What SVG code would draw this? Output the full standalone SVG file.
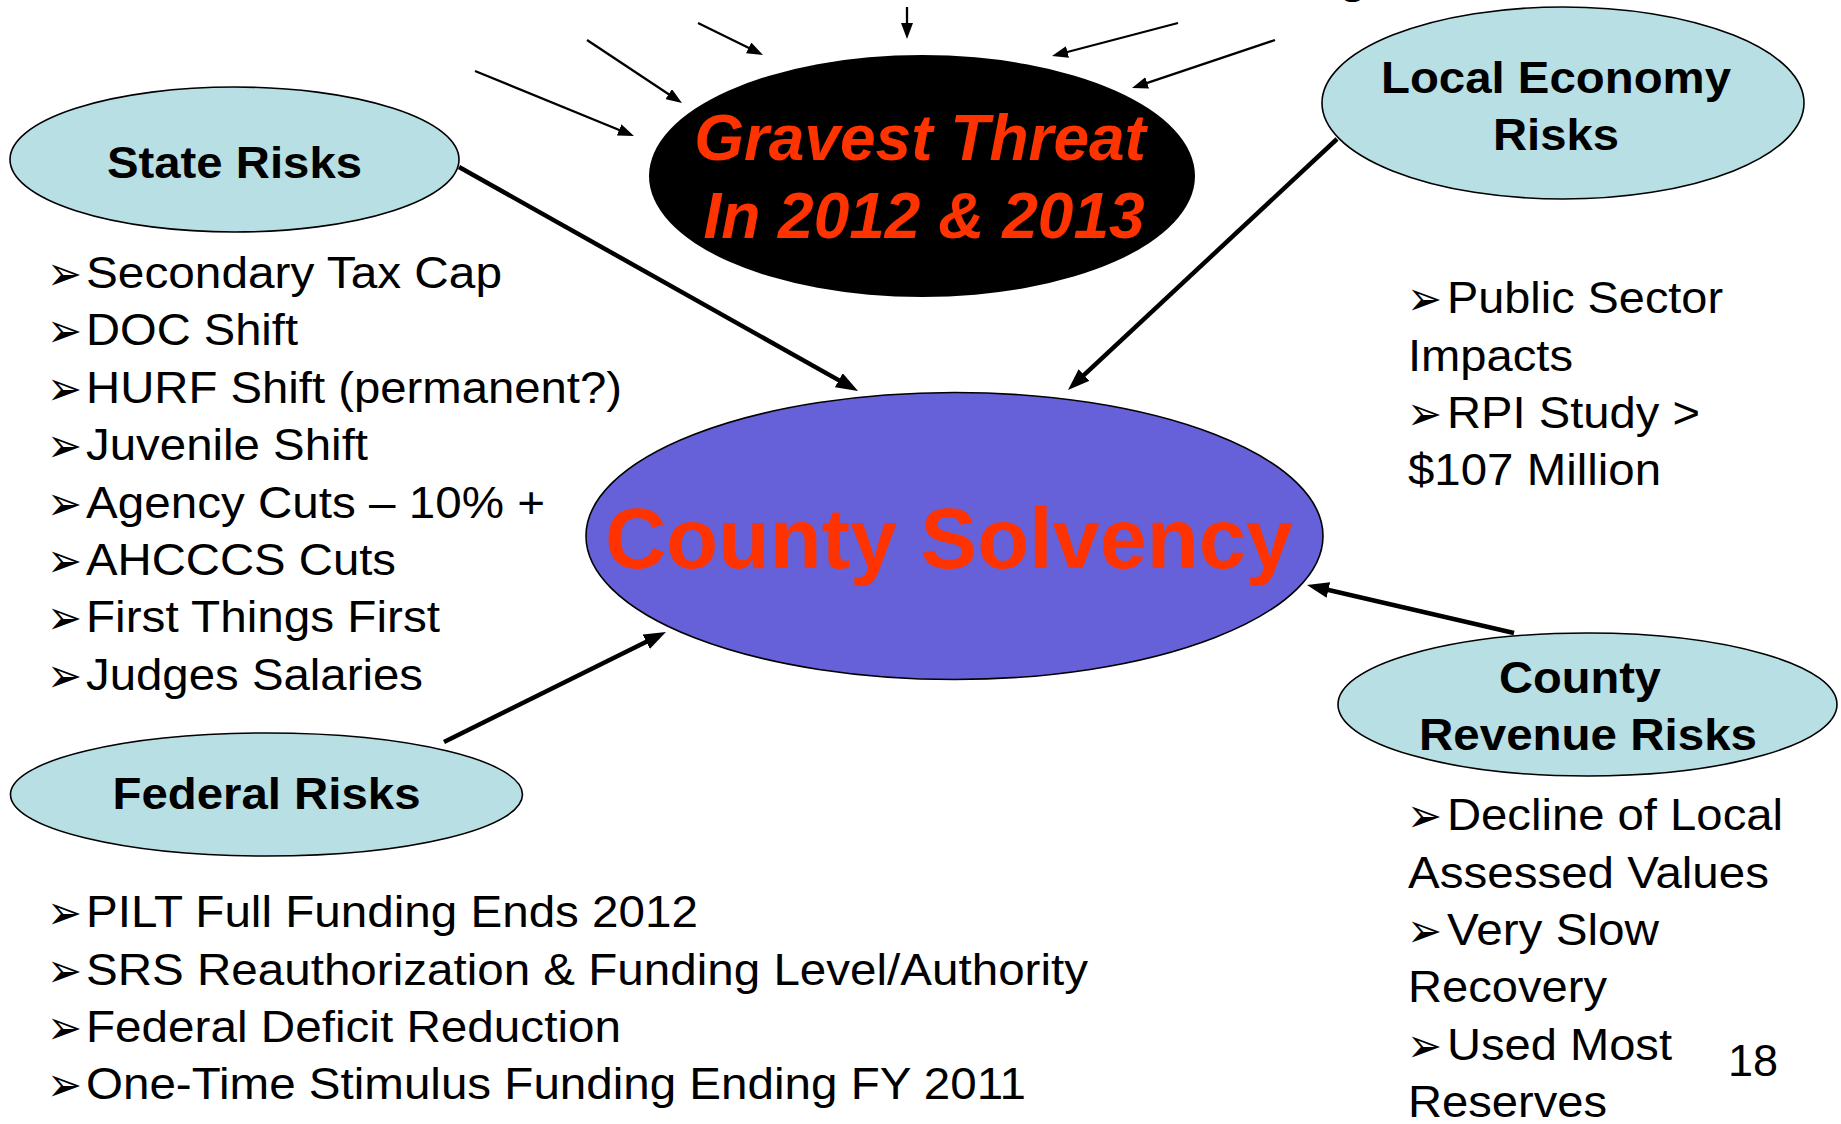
<svg xmlns="http://www.w3.org/2000/svg" width="1841" height="1124" viewBox="0 0 1841 1124">
  <style>
    .risk { fill: #B8DFE3; stroke: #000; stroke-width: 1.6; }
    .label { font-family: "Liberation Sans", Arial, sans-serif; font-weight: bold; font-size: 44px; fill: #000; text-anchor: middle; }
    .item { font-family: "Liberation Sans", Arial, sans-serif; font-size: 45px; fill: #000; }
    .bullet { font-family: "DejaVu Sans", sans-serif; font-size: 48px; fill: #000; }
    .hot { font-family: "Liberation Sans", Arial, sans-serif; font-weight: bold; fill: #FF3300; text-anchor: middle; }
    .thin { stroke: #000; stroke-width: 2.3; fill: none; marker-end: url(#headSmall); }
    .thick { stroke: #000; stroke-width: 4.5; fill: none; marker-end: url(#headLarge); }
  </style>
  <defs>
    <marker id="headSmall" markerUnits="userSpaceOnUse" markerWidth="16" markerHeight="12" refX="10" refY="6" orient="auto">
      <path d="M0,0 L16,6 L0,12 z" fill="#000"/>
    </marker>
    <marker id="headLarge" markerUnits="userSpaceOnUse" markerWidth="22" markerHeight="16" refX="12" refY="8" orient="auto">
      <path d="M0,0 L22,8 L0,16 z" fill="#000"/>
    </marker>
  </defs>

  <rect width="1841" height="1124" fill="#fff"/>

  <!-- descender of a heading that runs off the top edge -->
  <text x="1353" y="-7" class="label" font-size="47">g</text>

  <!-- central node -->
  <g id="county-solvency">
    <ellipse cx="954.5" cy="536" rx="368.5" ry="143.5" fill="#6661D8" stroke="#000" stroke-width="1.6"/>
    <text x="949" y="568" class="hot" font-size="86" textLength="688" lengthAdjust="spacingAndGlyphs">County Solvency</text>
  </g>

  <g id="gravest-threat">
    <ellipse cx="922" cy="176" rx="273" ry="121" fill="#000"/>
    <text x="920" y="160" class="hot" font-size="64" font-style="italic">Gravest Threat</text>
    <text x="924" y="238" class="hot" font-size="64" font-style="italic">In 2012 &amp; 2013</text>
  </g>

  <g id="state-risks">
    <ellipse class="risk" cx="234.5" cy="159.5" rx="224.5" ry="72.5"/>
    <text x="234.5" y="178" class="label" textLength="255" lengthAdjust="spacingAndGlyphs">State Risks</text>
  </g>

  <g id="state-items">
    <text x="47" y="290" class="bullet" textLength="35" lengthAdjust="spacingAndGlyphs">➢</text><text x="86" y="288" class="item" textLength="416" lengthAdjust="spacingAndGlyphs">Secondary Tax Cap</text>
    <text x="47" y="347.4" class="bullet" textLength="35" lengthAdjust="spacingAndGlyphs">➢</text><text x="86" y="345.4" class="item" textLength="212" lengthAdjust="spacingAndGlyphs">DOC Shift</text>
    <text x="47" y="404.8" class="bullet" textLength="35" lengthAdjust="spacingAndGlyphs">➢</text><text x="86" y="402.8" class="item" textLength="536" lengthAdjust="spacingAndGlyphs">HURF Shift (permanent?)</text>
    <text x="47" y="462.2" class="bullet" textLength="35" lengthAdjust="spacingAndGlyphs">➢</text><text x="86" y="460.2" class="item" textLength="282" lengthAdjust="spacingAndGlyphs">Juvenile Shift</text>
    <text x="47" y="519.6" class="bullet" textLength="35" lengthAdjust="spacingAndGlyphs">➢</text><text x="86" y="517.6" class="item" textLength="459" lengthAdjust="spacingAndGlyphs">Agency Cuts – 10% +</text>
    <text x="47" y="577" class="bullet" textLength="35" lengthAdjust="spacingAndGlyphs">➢</text><text x="86" y="575" class="item" textLength="310" lengthAdjust="spacingAndGlyphs">AHCCCS Cuts</text>
    <text x="47" y="634.4" class="bullet" textLength="35" lengthAdjust="spacingAndGlyphs">➢</text><text x="86" y="632.4" class="item" textLength="354" lengthAdjust="spacingAndGlyphs">First Things First</text>
    <text x="47" y="691.8" class="bullet" textLength="35" lengthAdjust="spacingAndGlyphs">➢</text><text x="86" y="689.8" class="item" textLength="337" lengthAdjust="spacingAndGlyphs">Judges Salaries</text>
  </g>

  <g id="local-economy-risks">
    <ellipse class="risk" cx="1563" cy="103" rx="241" ry="96"/>
    <text x="1556" y="93" class="label" textLength="350" lengthAdjust="spacingAndGlyphs">Local Economy</text>
    <text x="1556" y="150" class="label" textLength="126" lengthAdjust="spacingAndGlyphs">Risks</text>
  </g>

  <g id="local-items">
    <text x="1407" y="315" class="bullet" textLength="35" lengthAdjust="spacingAndGlyphs">➢</text><text x="1447" y="313" class="item" textLength="276" lengthAdjust="spacingAndGlyphs">Public Sector</text>
    <text x="1408" y="371" class="item" textLength="165" lengthAdjust="spacingAndGlyphs">Impacts</text>
    <text x="1407" y="430" class="bullet" textLength="35" lengthAdjust="spacingAndGlyphs">➢</text><text x="1447" y="428" class="item" textLength="253" lengthAdjust="spacingAndGlyphs">RPI Study &gt;</text>
    <text x="1408" y="485" class="item" textLength="253" lengthAdjust="spacingAndGlyphs">$107 Million</text>
  </g>

  <g id="federal-risks">
    <ellipse class="risk" cx="266.5" cy="794.5" rx="256" ry="61.5"/>
    <text x="266.5" y="809" class="label" textLength="308" lengthAdjust="spacingAndGlyphs">Federal Risks</text>
  </g>

  <g id="federal-items">
    <text x="47" y="929" class="bullet" textLength="35" lengthAdjust="spacingAndGlyphs">➢</text><text x="86" y="927" class="item" textLength="612" lengthAdjust="spacingAndGlyphs">PILT Full Funding Ends 2012</text>
    <text x="47" y="986.5" class="bullet" textLength="35" lengthAdjust="spacingAndGlyphs">➢</text><text x="86" y="984.5" class="item" textLength="1002" lengthAdjust="spacingAndGlyphs">SRS Reauthorization &amp; Funding Level/Authority</text>
    <text x="47" y="1044" class="bullet" textLength="35" lengthAdjust="spacingAndGlyphs">➢</text><text x="86" y="1042" class="item" textLength="535" lengthAdjust="spacingAndGlyphs">Federal Deficit Reduction</text>
    <text x="47" y="1101" class="bullet" textLength="35" lengthAdjust="spacingAndGlyphs">➢</text><text x="86" y="1099" class="item" textLength="940" lengthAdjust="spacingAndGlyphs">One-Time Stimulus Funding Ending FY 2011</text>
  </g>

  <g id="county-revenue-risks">
    <ellipse class="risk" cx="1587.5" cy="704.5" rx="249.5" ry="71.5"/>
    <text x="1580" y="693" class="label" textLength="162" lengthAdjust="spacingAndGlyphs">County</text>
    <text x="1588" y="750" class="label" textLength="338" lengthAdjust="spacingAndGlyphs">Revenue Risks</text>
  </g>

  <g id="revenue-items">
    <text x="1407" y="832" class="bullet" textLength="35" lengthAdjust="spacingAndGlyphs">➢</text><text x="1447" y="830" class="item" textLength="336" lengthAdjust="spacingAndGlyphs">Decline of Local</text>
    <text x="1408" y="888" class="item" textLength="361" lengthAdjust="spacingAndGlyphs">Assessed Values</text>
    <text x="1407" y="947" class="bullet" textLength="35" lengthAdjust="spacingAndGlyphs">➢</text><text x="1447" y="945" class="item" textLength="212" lengthAdjust="spacingAndGlyphs">Very Slow</text>
    <text x="1408" y="1002" class="item" textLength="199" lengthAdjust="spacingAndGlyphs">Recovery</text>
    <text x="1407" y="1062" class="bullet" textLength="35" lengthAdjust="spacingAndGlyphs">➢</text><text x="1447" y="1060" class="item" textLength="225" lengthAdjust="spacingAndGlyphs">Used Most</text>
    <text x="1408" y="1117" class="item" textLength="199" lengthAdjust="spacingAndGlyphs">Reserves</text>
  </g>

  <!-- page number -->
  <text x="1728" y="1076" class="item" font-size="35">18</text>

  <g id="connectors">
    <!-- pressures converging on the gravest-threat oval -->
    <line class="thin" x1="475" y1="71" x2="628.4" y2="133.7"/>
    <line class="thin" x1="587" y1="40" x2="677" y2="99.7"/>
    <line class="thin" x1="698" y1="23" x2="757.6" y2="52.3"/>
    <line class="thin" x1="907" y1="7" x2="907" y2="33"/>
    <line class="thin" x1="1178" y1="23" x2="1057.8" y2="54.5"/>
    <line class="thin" x1="1275" y1="40" x2="1137.7" y2="86.1"/>
    <!-- risk groups feeding county solvency -->
    <line class="thick" x1="459" y1="167" x2="849.3" y2="386.1"/>
    <line class="thick" x1="1337" y1="139" x2="1075.3" y2="383.2"/>
    <line class="thick" x1="444" y1="742" x2="657" y2="636.4"/>
    <line class="thick" x1="1514" y1="633" x2="1316.7" y2="587.3"/>
  </g>
</svg>
